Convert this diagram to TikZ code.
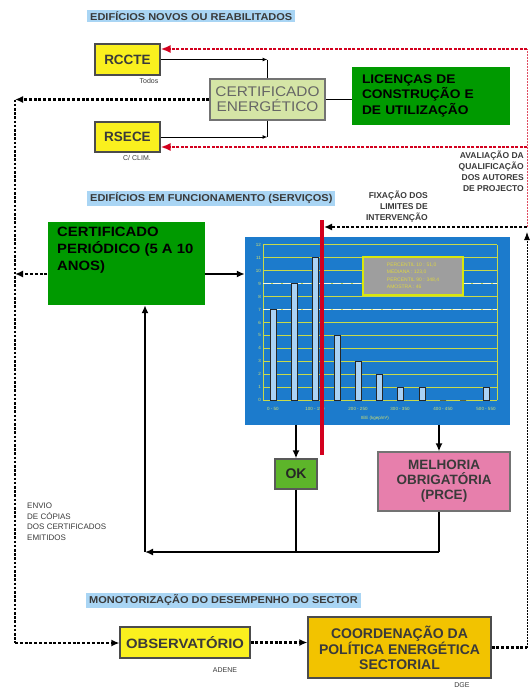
\documentclass[tikz,border=0pt]{standalone}
\usepackage{fontspec}
\setmainfont{Liberation Sans}
\newfontfamily\widefont[FakeStretch=1.1]{Liberation Sans}
\usetikzlibrary{arrows.meta,calc}
\definecolor{hdrblue}{HTML}{A9D5F4}
\definecolor{boxyellow}{HTML}{FAF01E}
\definecolor{boxgold}{HTML}{F2C300}
\definecolor{certgreen}{HTML}{D5E5A6}
\definecolor{darkgreen}{HTML}{009A00}
\definecolor{okgreen}{HTML}{5DB52A}
\definecolor{pinkbox}{HTML}{E77FAC}
\definecolor{chartblue}{HTML}{1C7BCC}
\definecolor{gridyel}{HTML}{C9D94A}
\definecolor{barblue}{HTML}{A9D2F5}
\definecolor{redline}{HTML}{D3001E}
\definecolor{txtgray}{HTML}{3A3A3A}
\begin{document}
\begin{tikzpicture}[x=1pt,y=-1pt,
  hdr/.style={fill=hdrblue,anchor=west,inner xsep=3pt,inner ysep=2pt,text=txtgray,font=\widefont\bfseries\fontsize{10}{11}\selectfont},
  ybox/.style={draw=black!70,line width=1.2pt,fill=boxyellow,text=txtgray,font=\bfseries\fontsize{13.5}{15}\selectfont,inner sep=0pt},
  gbox/.style={fill=darkgreen,text=black,font=\widefont\bfseries\fontsize{12.5}{15.5}\selectfont,inner sep=0pt},
  small/.style={text=txtgray,font=\fontsize{7}{8}\selectfont,inner sep=0pt},
  note/.style={text=txtgray,font=\bfseries\fontsize{8.5}{11}\selectfont,inner sep=0pt},
  tip/.style={-{Latex[length=8pt,width=7pt]}},
  thintip/.style={-{Latex[length=5pt,width=4pt]}},
  redtip/.style={-{Latex[length=10pt,width=8pt]}},
  solidln/.style={line width=2pt,black},
  hdot/.style={line width=2.2pt,black,dash pattern=on 3pt off 1.8pt},
  vdot/.style={line width=2.8pt,black,dash pattern=on 2.6pt off 1.6pt},
  rdot/.style={line width=1.8pt,redline,dash pattern=on 3pt off 1.4pt},
  rvdot/.style={line width=1pt,redline!70,dash pattern=on 2pt off 1pt},
  gdot/.style={line width=0.9pt,black!65,dash pattern=on 2pt off 1pt},
  grid/.style={gridyel,line width=1pt},
  tick/.style={text=gridyel!80!white,font=\fontsize{4.5}{5}\selectfont,inner sep=0pt},
  bar/.style={fill=barblue,draw=black!85,line width=1pt}]
\useasboundingbox (0,0) rectangle (530,691);
\fill[white] (0,0) rectangle (530,691);

% headers
\node[hdr] (h1) at (87,16) {EDIFÍCIOS NOVOS OU REABILITADOS};
\node[hdr] (h2) at (87,198.5) {EDIFÍCIOS EM FUNCIONAMENTO (SERVIÇOS)};
\node[hdr] (h3) at (86,600.5) {MONOTORIZAÇÃO DO DESEMPENHO DO SECTOR};

% top section
\node[ybox,minimum width=65pt,minimum height=31pt] (rccte) at (127.5,59.5) {RCCTE};
\node[small,anchor=north] (todos) at (149,78) {Todos};
\node[ybox,minimum width=65pt,minimum height=30pt] (rsece) at (127.5,137) {RSECE};
\node[small,anchor=north] (cclim) at (137,155) {C/ CLIM.};
\node[draw=black!55,line width=1.2pt,fill=certgreen,text=black!60,minimum width=115pt,minimum height=41pt,inner sep=0pt,align=center,font=\widefont\fontsize{14}{15}\selectfont] (cert) at (267.5,99.5) {CERTIFICADO\\ENERGÉTICO};
\node[gbox,minimum width=158pt,minimum height=58pt,text width=138pt,align=left,inner xsep=10pt] (lic) at (431,95.5) {LICENÇAS DE\\CONSTRUÇÃO E\\DE UTILIZAÇÃO};
\node[note,anchor=north east,align=right] (aval) at (524,151) {AVALIAÇÃO DA\\QUALIFICAÇÃO\\DOS AUTORES\\DE PROJECTO};

\draw[line width=1pt,thintip] (rccte.east) -- (rccte.east -| cert.north);
\draw[line width=1pt] (cert.north) -- (rccte.east -| cert.north);
\draw[line width=1pt,thintip] (rsece.east) -- (rsece.east -| cert.south);
\draw[line width=1pt] (cert.south) -- (rsece.east -| cert.south);
\draw[line width=1.6pt] (cert.east) -- (lic.west |- cert.east);

% left dotted line
\coordinate (L1) at (15,99.5);
\coordinate (L2) at (15,643);
\draw[hdot,tip] (cert.west) -- (L1);
\draw[vdot] (L1) -- (L2);

% right side lines
\coordinate (Rt) at (527,49);
\coordinate (Rb) at (527,147);
\coordinate (Rm) at (527,227);
\coordinate (Rlow) at (527,232);
\draw[rvdot] (Rm) -- (Rt);
\draw[rdot,redtip] (Rt) -- (rccte.east |- Rt);
\draw[rdot,redtip] (Rb) -- (rsece.east |- Rb);

% middle section
\node[note,anchor=north east,align=right] (fix) at (428,191) {FIXAÇÃO DOS\\LIMITES DE\\INTERVENÇÃO};
\node[fill=chartblue,minimum width=265pt,minimum height=188pt,inner sep=0pt] (chart) at (377.5,330.5) {};

% chart content
\foreach \k in {0,...,12} {
  \draw[grid] (263,{400-\k*12.92}) -- (497,{400-\k*12.92});
  \node[tick,anchor=east] at (261,{400-\k*12.92}) {\k};
}
\draw[grid] (263,400) -- (263,245) (497,400) -- (497,245);
\draw[white!85!gridyel,line width=1.4pt,dash pattern=on 8pt off 2pt] (263,283.7) -- (497,283.7) (263,309.6) -- (497,309.6);
\foreach \x/\v in {273/7,294/9,315/11,337/5,358/3,379/2,400/1,422/1,443/0,463/0,486/1} {
  \draw[bar] (\x-3,400) rectangle (\x+3,{400-\v*12.92});
}
\foreach \x/\t in {273/0 - 50,315/100 - 150,358/200 - 250,400/300 - 350,443/400 - 450,486/500 - 550} {
  \node[tick] at (\x,409) {\t};
}
\node[tick] at (375,418) {IEE (kgep/m²)};
\node[fill=black!38,draw=yellow!85!green,line width=1.3pt,minimum width=100pt,minimum height=38pt,inner sep=3pt,align=left,text=yellow!70!gray,font=\fontsize{5}{7.5}\selectfont] (leg) at (413,276) {PERCENTIL 10 : 51,0\\MEDIANA : 123,0\\PERCENTIL 90 : 348,4\\AMOSTRA : 46\hspace{25pt}};

\coordinate (limtop) at (324,227);
\draw[redline,line width=4pt] (322,220) -- (322,455);
\draw[hdot,tip] (Rm) -- (limtop);

\node[gbox,minimum width=157pt,minimum height=83pt] (periodico) at (126,263.5) {};
\node[gbox,fill=none,anchor=north west,align=left,font=\widefont\bfseries\fontsize{13.5}{17}\selectfont] (pertxt) at (57,227) {CERTIFICADO\\PERIÓDICO (5 A 10\\ANOS)};

\coordinate (rowP) at (0,274);
\draw[solidln,tip] (periodico.east |- rowP) -- (chart.west |- rowP);
\draw[hdot,tip] (periodico.west |- rowP) -- (L1 |- rowP);

\node[draw=black!65,line width=1.2pt,fill=okgreen,text=black!85,minimum width=42pt,minimum height=30pt,inner sep=0pt,font=\bfseries\fontsize{14}{15}\selectfont] (ok) at (296,474) {OK};
\node[draw=black!55,line width=1.2pt,fill=pinkbox,text=txtgray,minimum width=132pt,minimum height=59pt,inner sep=0pt,align=center,font=\bfseries\fontsize{13.5}{15}\selectfont] (mel) at (444,481.5) {MELHORIA\\OBRIGATÓRIA\\(PRCE)};

\coordinate (mx) at (439,0);
\coordinate (B) at (145,552);
\draw[solidln,tip] (chart.south -| ok.north) -- (ok.north);
\draw[solidln,tip] (chart.south -| mx) -- (mel.north -| mx);
\draw[solidln] (ok.south) -- (ok.south |- B);
\draw[solidln] (mel.south -| mx) -- (mx |- B);
\draw[solidln,tip] (mx |- B) -- (B);
\draw[solidln,tip] (B) -- (periodico.south -| B);

\node[note,font=\fontsize{8}{10.5}\selectfont,anchor=north west,align=left] (envio) at (27,503) {ENVIO\\DE CÓPIAS\\DOS CERTIFICADOS\\EMITIDOS};

% bottom section
\node[ybox,font=\widefont\bfseries\fontsize{13.5}{15}\selectfont,minimum width=130pt,minimum height=31pt] (obs) at (185,642.5) {OBSERVATÓRIO};
\node[small,anchor=north] (adene) at (225,667) {ADENE};
\node[ybox,fill=boxgold,align=center,font=\bfseries\fontsize{14}{15}\selectfont,minimum width=183pt,minimum height=61pt] (coord) at (399.5,647.5) {COORDENAÇÃO DA\\POLÍTICA ENERGÉTICA\\SECTORIAL};
\node[small,anchor=north] (dge) at (462,682) {DGE};

\draw[hdot,tip] (L2) -- (obs.west |- L2);
\draw[hdot,tip] (obs.east) -- (coord.west |- obs.east);
\draw[hdot] (coord.east) -- (coord.east -| Rm);
\draw[gdot,-{Latex[length=8pt,width=6pt]},black] (coord.east -| Rm) -- (Rlow);
\end{tikzpicture}
\end{document}
